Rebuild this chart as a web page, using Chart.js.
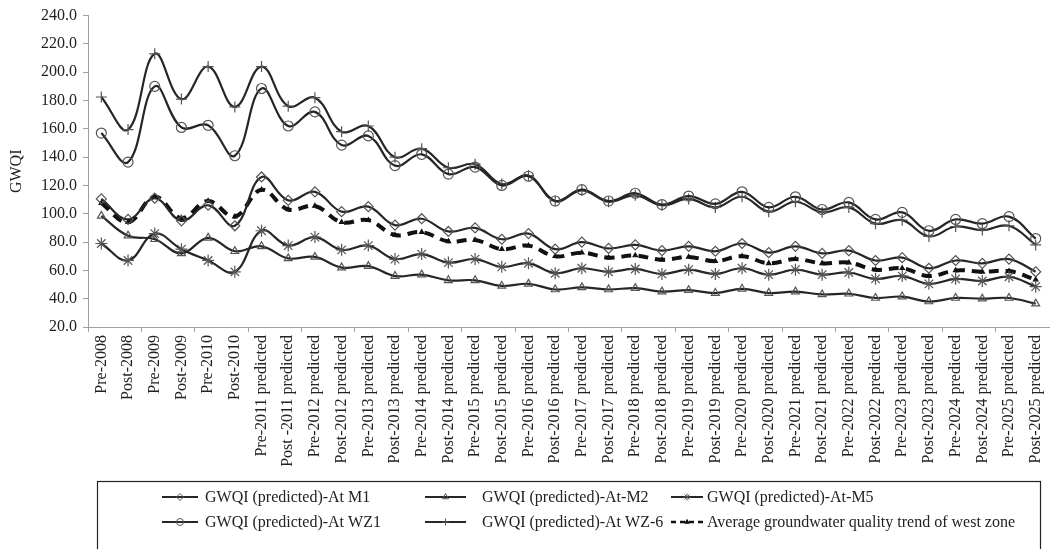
<!DOCTYPE html>
<html><head><meta charset="utf-8">
<script src="https://cdn.jsdelivr.net/npm/chart.js@4.4.1/dist/chart.umd.min.js"></script>
<style>html,body{margin:0;padding:0;background:#fff;} #wrap{width:1058px;height:549px;position:relative;}</style>
</head><body><div id="wrap"><canvas id="c" width="1058" height="549"></canvas></div>
<script>
const categories = ["Pre-2008","Post-2008","Pre-2009","Post-2009","Pre-2010","Post-2010",
 "Pre-2011 predicted","Post -2011 predicted","Pre-2012 predicted","Post-2012 predicted",
 "Pre-2013 predicted","Post-2013 predicted","Pre-2014 predicted","Post-2014 predicted",
 "Pre-2015 predicted","Post-2015 predicted","Pre-2016 predicted","Post-2016 predicted",
 "Pre-2017 predicted","Post-2017 predicted","Pre-2018 predicted","Post-2018 predicted",
 "Pre-2019 predicted","Post-2019 predicted","Pre-2020 predicted","Post-2020 predicted",
 "Pre-2021 predicted","Post-2021 predicted","Pre-2022 predicted","Post-2022 predicted",
 "Pre-2023 predicted","Post-2023 predicted","Pre-2024 predicted","Post-2024 predicted",
 "Pre-2025 predicted","Post-2025 predicted"];
const gwqiM1 = [110.5,96,111,95,106,91.5,126,109.5,115.5,101.5,105,92,96.5,87.5,90,82,86,75,80,75.5,78,74,77,73.5,79,72.5,77,72,74,67,69,61.5,67,65,68,59];
const gwqiM2 = [98.5,84.5,82,72,83,73.5,77,68.5,69.5,62,63,56,57,53,53,49,50.5,46.5,48,46.5,47.5,45,46,44,47,44,45,43,43.5,40.5,41.5,38,40.5,40,40.5,36.5];
const gwqiM5 = [79,67,86,75,67,59,88,77.5,83.5,74.5,77.5,68,71.5,65.5,68,62.5,65,58,61.5,59,61,57.5,60.5,57.5,61.5,57,60.5,57,58.5,54,56,50.5,54,52.5,55.5,48.5];
const gwqiWZ1 = [157,136.5,190,161,162.5,141,188.5,162,172,148.5,155,134,142,128,133,120,126.5,109,117,109,114.5,106.5,112.5,107,115.5,104.5,112,103,108,96,101,88,96,93,98,82.5];
const gwqiWZ6 = [182.5,159.5,213,181,204,175.5,204,176,182,158,162,140,146,132.5,135,121,127,109,116.5,108.5,113,106,110.5,104.5,112,101.5,108.5,101,104.5,93,95.5,84,91,88.5,91.5,78];
const avgWestZone = [107.5,94,112,97,109,98,117,103,105.5,94,95.5,85,87,80.5,81.5,75,77.5,70,72.5,69,70.5,67.5,69.5,66.5,70,65,68,65,65.5,60.5,61.5,56,60,59,59.5,53.5];
const seriesNames = ["GWQI (predicted)-At M1","GWQI (predicted)-At-M2","GWQI (predicted)-At-M5",
 "GWQI (predicted)-At WZ1","GWQI (predicted)-At WZ-6","Average groundwater quality trend of west zone"];
const yTicks = {min:20, max:240, step:20};

const LINE = '#262626', MARK = '#555';
function ds(label, data, style, radius, extra) {
  return Object.assign({label, data, borderColor: LINE, borderWidth: 2.2, tension: 0.4,
    pointStyle: style, pointRadius: radius, pointHoverRadius: radius,
    pointBorderColor: MARK, pointBorderWidth: 1.2, pointBackgroundColor: 'rgba(255,255,255,0)', fill: false}, extra || {});
}
const datasets = [
  ds(seriesNames[0], gwqiM1, 'rectRot', 5),
  ds(seriesNames[1], gwqiM2, 'triangle', 4.5),
  ds(seriesNames[2], gwqiM5, 'star', 6),
  ds(seriesNames[3], gwqiWZ1, 'circle', 5),
  ds(seriesNames[4], gwqiWZ6, 'cross', 5.5),
  ds(seriesNames[5], avgWestZone, 'triangle', 2.5, {borderColor:'#111', borderWidth:4, borderDash:[10,7],
     pointBorderColor:'#111', pointBackgroundColor:'#111'})
];

const legendPlugin = {
  id: 'customLegend',
  afterDraw(chart) {
    const ctx = chart.ctx;
    ctx.save();
    ctx.strokeStyle = '#222'; ctx.lineWidth = 1.2;
    ctx.strokeRect(97.5, 481.5, 943, 80);
    const cols = [{l0:162, l1:198, tx:205}, {l0:425, l1:466, tx:482}, {l0:671, l1:703, tx:707}];
    const rows = [497, 522];
    ctx.font = '16px "Liberation Serif", serif';
    ctx.textBaseline = 'middle';
    ctx.fillStyle = '#222';
    chart.data.datasets.forEach((d, i) => {
      const r = Math.floor(i / 3), c = i % 3;
      const col = cols[c], y = rows[r];
      ctx.save();
      ctx.strokeStyle = d.borderColor; ctx.lineWidth = i === 5 ? 2.5 : 2;
      ctx.setLineDash(i === 5 ? [5,4] : []);
      ctx.beginPath(); ctx.moveTo(col.l0, y); ctx.lineTo(col.l1, y); ctx.stroke();
      ctx.setLineDash([]);
      ctx.strokeStyle = d.pointBorderColor; ctx.fillStyle = d.pointBackgroundColor; ctx.lineWidth = 1;
      Chart.helpers.drawPoint(ctx, {pointStyle: d.pointStyle, radius: Math.min(d.pointRadius, 3.5), rotation: 0, borderWidth: 1}, (col.l0 + col.l1) / 2, y);
      ctx.restore();
      ctx.fillText(d.label, col.tx, y + 1);
    });
    ctx.restore();
  }
};

new Chart(document.getElementById('c'), {
  type: 'line',
  data: {labels: categories, datasets},
  plugins: [legendPlugin],
  options: {
    responsive: false, animation: false, devicePixelRatio: 1,
    layout: {padding: {top: 15, right: 3, left: 0, bottom: 0}},
    plugins: {legend: {display: false}, tooltip: {enabled: false}},
    scales: {
      x: {
        offset: true,
        afterFit(s) { s.height = 222; },
        border: {color: '#a0a0a0', width: 1},
        grid: {offset: true, drawOnChartArea: false, drawTicks: true, tickLength: 5,
          tickColor: (c) => (c.index % 2 === 0 ? '#a0a0a0' : 'rgba(0,0,0,0)'), color: 'rgba(0,0,0,0)'},
        ticks: {autoSkip: false, maxRotation: 90, minRotation: 90, padding: 3, color: '#222',
          font: {family: '"Liberation Serif", serif', size: 16}}
      },
      y: {
        min: yTicks.min, max: yTicks.max,
        afterFit(s) { s.width = 88; },
        border: {color: '#a0a0a0', width: 1},
        grid: {drawOnChartArea: false, drawTicks: true, tickLength: 5, tickColor: '#a0a0a0'},
        ticks: {stepSize: yTicks.step, padding: 6, color: '#222',
          font: {family: '"Liberation Serif", serif', size: 16},
          callback: (v) => Number(v).toFixed(1)},
        title: {display: true, text: 'GWQI', color: '#222', padding: {top: 7, bottom: 0},
          font: {family: '"Liberation Serif", serif', size: 16}}
      }
    }
  }
});
</script></body></html>
